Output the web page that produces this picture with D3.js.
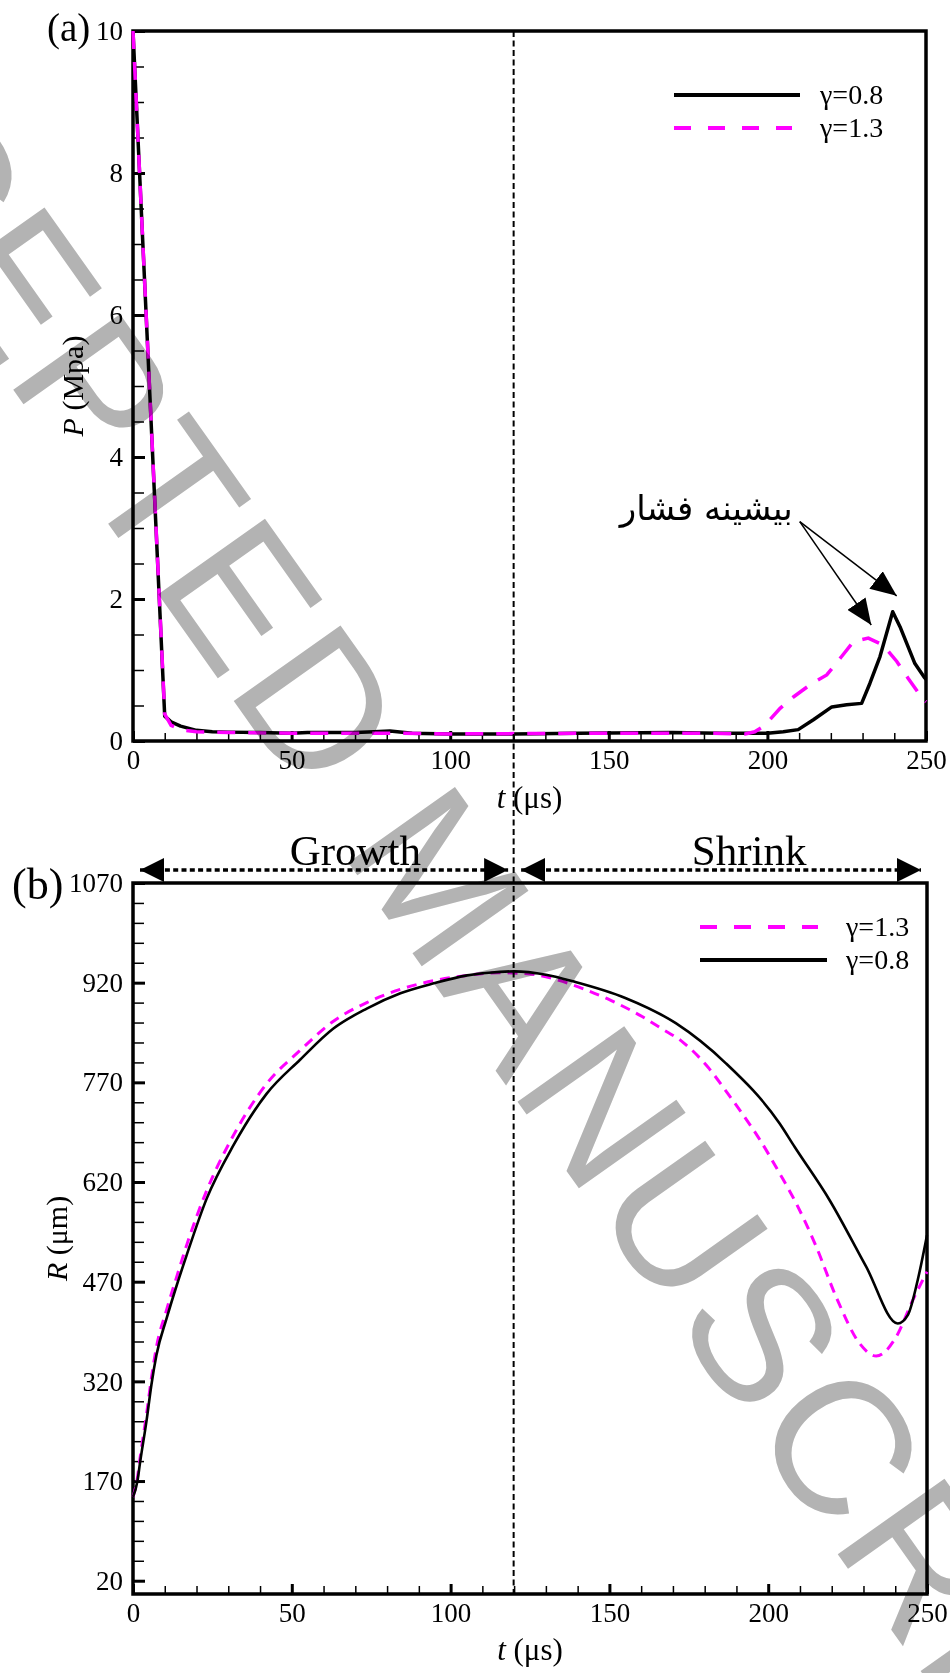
<!DOCTYPE html>
<html>
<head>
<meta charset="utf-8">
<script src="https://cdn.jsdelivr.net/npm/d3@7"></script>
<style>
body { margin: 0; background: #fff; }
svg text { font-family: "Liberation Serif", "Times New Roman", serif; fill: #000; }
</style>
</head>
<body>
<div id="chart"></div>
<script>
// tick labels
var tTicks = [0, 50, 100, 150, 200, 250];
var pTicks = [0, 2, 4, 6, 8, 10];
var rTicks = [20, 170, 320, 470, 620, 770, 920, 1070];

// (a) pressure, gamma = 0.8
var p08_t = [0, 10, 12, 15, 20, 25, 30, 40, 50, 55, 70, 76, 81, 88, 100, 120, 140, 170, 185, 200, 205, 209.7, 214.5, 220.3, 225, 229.7, 232.3, 235.5, 237.6, 239.5, 241.8, 246.5, 249.4, 250];
var p08_v = [10, 0.35, 0.27, 0.21, 0.15, 0.13, 0.125, 0.12, 0.11, 0.12, 0.12, 0.13, 0.14, 0.11, 0.1, 0.1, 0.11, 0.12, 0.11, 0.11, 0.13, 0.16, 0.3, 0.48, 0.51, 0.53, 0.81, 1.19, 1.52, 1.82, 1.61, 1.09, 0.9, 0.87];
// (a) pressure, gamma = 1.3
var p13_t = [0, 10, 12, 15, 20, 30, 50, 80, 100, 150, 180, 193, 196, 199.2, 204, 208.2, 214, 218.7, 223.4, 227.1, 231.8, 236.5, 240.8, 244.4, 249.2, 250];
var p13_v = [10, 0.38, 0.22, 0.16, 0.13, 0.12, 0.11, 0.11, 0.1, 0.11, 0.11, 0.1, 0.13, 0.22, 0.46, 0.62, 0.81, 0.93, 1.19, 1.4, 1.45, 1.35, 1.12, 0.88, 0.58, 0.55];

// (b) radius, gamma = 0.8
var r08_t = [0, 1.4, 2.2, 4.3, 5.8, 7.4, 10.6, 13.8, 16.9, 23.2, 31.6, 42.1, 52.6, 63.1, 73.6, 84.2, 94.7, 105.2, 112, 120, 130, 139.3, 155, 170.9, 186.6, 203.6, 208.3, 219.3, 230.8, 240.8, 244, 247.1, 250];
var r08_v = [146, 170, 197, 262, 315, 360, 415, 465, 510, 595, 675, 753, 804, 851, 881, 904, 919, 931, 935, 937, 932, 921, 897, 859, 799, 708, 673, 593, 493, 407, 420, 473, 540];
// (b) radius, gamma = 1.3
var r13_t = [0, 1.4, 2.2, 4.3, 5.8, 7.4, 10.6, 13.8, 16.9, 23.2, 31.6, 42.1, 52.6, 63.1, 73.6, 84.2, 94.7, 105.2, 115, 125, 133.8, 142.2, 150.6, 160.3, 166.4, 173, 181, 187.3, 191.8, 196.8, 203.6, 208.8, 215.1, 221.4, 228.8, 234, 240.3, 245.5, 250];
var r13_v = [146, 175, 204, 272, 325, 372, 428, 478, 525, 607, 690, 768, 818, 862, 890, 910, 923, 931, 935, 933, 924, 910, 893, 869, 851, 831, 793, 753, 723, 688, 633, 588, 523, 447, 377, 358, 387, 442, 485];

var legendA = ["γ=0.8", "γ=1.3"];
var legendB = ["γ=1.3", "γ=0.8"];
var phases = [
    { label: "Growth", from: 0, to: 120, labelAt: 70 },
    { label: "Shrink", from: 120, to: 250, labelAt: 194 }
];
var boundaryT = 120;
var peakNote = { text: "بیشینه فشار", t: 210.2, p: 3.09 };

var svg = d3.select("#chart").append("svg")
    .attr("width", 950)
    .attr("height", 1673);

var defs = svg.append("defs");
defs.append("marker")
    .attr("id", "head")
    .attr("markerUnits", "userSpaceOnUse")
    .attr("markerWidth", 26).attr("markerHeight", 22)
    .attr("refX", 26).attr("refY", 11)
    .attr("orient", "auto-start-reverse")
    .append("path").attr("d", "M0,0 L26,11 L0,22 Z").attr("fill", "#000");
defs.append("marker")
    .attr("id", "phase")
    .attr("markerUnits", "userSpaceOnUse")
    .attr("markerWidth", 24).attr("markerHeight", 24)
    .attr("refX", 24).attr("refY", 12)
    .attr("orient", "auto-start-reverse")
    .append("path").attr("d", "M0,0 L24,12 L0,24 Z").attr("fill", "#000");

var xA = d3.scaleLinear().domain([0, 250]).range([133, 926]);
var yA = d3.scaleLinear().domain([0, 10]).range([741, 31]);
var xB = d3.scaleLinear().domain([0, 250]).range([133, 927]);
var yB = d3.scaleLinear().domain([0, 1070]).range([1594, 883]);

function minor_of(major, step) {
    var lo = major[0], hi = major[major.length - 1];
    return d3.range(lo, hi + step / 2, step).filter(function (v) {
        return major.every(function (m) { return Math.abs(m - v) > 1e-6; });
    });
}

function draw_axes(g, x, y, xMajor, yMajor, xStep, yStep) {
    // minor ticks
    g.append("g")
        .attr("transform", "translate(0," + y.range()[0] + ")")
        .call(d3.axisBottom(x).tickValues(minor_of(xMajor, xStep)).tickSize(-8).tickFormat(""))
        .call(function (s) { s.select(".domain").remove(); s.selectAll("line").attr("stroke-width", 1.5); });
    g.append("g")
        .attr("transform", "translate(" + x.range()[0] + ",0)")
        .call(d3.axisLeft(y).tickValues(minor_of(yMajor, yStep)).tickSize(-11).tickFormat(""))
        .call(function (s) { s.select(".domain").remove(); s.selectAll("line").attr("stroke-width", 1.5); });
    // major ticks + labels
    g.append("g")
        .attr("transform", "translate(0," + y.range()[0] + ")")
        .call(d3.axisBottom(x).tickValues(xMajor).tickSize(-10).tickPadding(9).tickFormat(d3.format("d")))
        .call(function (s) {
            s.select(".domain").remove();
            s.selectAll("line").attr("stroke-width", 3);
            s.selectAll("text").attr("font-size", 27);
        });
    g.append("g")
        .attr("transform", "translate(" + x.range()[0] + ",0)")
        .call(d3.axisLeft(y).tickValues(yMajor).tickSize(-12).tickPadding(10).tickFormat(d3.format("d")))
        .call(function (s) {
            s.select(".domain").remove();
            s.selectAll("line").attr("stroke-width", 3);
            s.selectAll("text").attr("font-size", 27);
        });
    g.append("rect")
        .attr("x", x.range()[0]).attr("y", y.range()[1])
        .attr("width", x.range()[1] - x.range()[0])
        .attr("height", y.range()[0] - y.range()[1])
        .attr("fill", "none").attr("stroke", "#000").attr("stroke-width", 3.5);
}

function series(ts, vs) {
    return d3.zip(ts, vs);
}

function draw_legend(g, labels, styles, x0, y0) {
    labels.forEach(function (lab, i) {
        var st = styles[i];
        var yy = y0 + i * 33;
        g.append("line")
            .attr("x1", x0).attr("x2", x0 + st.len)
            .attr("y1", yy).attr("y2", yy)
            .attr("stroke", st.color).attr("stroke-width", 4)
            .attr("stroke-dasharray", st.dash);
        g.append("text")
            .attr("x", x0 + 146).attr("y", yy + 9)
            .attr("font-size", 28)
            .text(lab);
    });
}

// ---------- panel (a)
var ga = svg.append("g");
draw_axes(ga, xA, yA, tTicks, pTicks, 10, 0.5);

var lineA = d3.line()
    .x(function (d) { return xA(d[0]); })
    .y(function (d) { return yA(d[1]); });

ga.append("path")
    .datum(series(p08_t, p08_v))
    .attr("d", lineA)
    .attr("fill", "none").attr("stroke", "#000").attr("stroke-width", 3.5)
    .attr("stroke-linejoin", "round");
ga.append("path")
    .datum(series(p13_t, p13_v))
    .attr("d", lineA)
    .attr("fill", "none").attr("stroke", "#ff00ff").attr("stroke-width", 3.5)
    .attr("stroke-dasharray", "18,13");

draw_legend(ga, legendA, [
    { color: "#000", dash: null, len: 126 },
    { color: "#ff00ff", dash: "17,17", len: 118 }
], 674, 95);

ga.append("text")
    .attr("x", 47).attr("y", 41)
    .attr("font-size", 39)
    .text("(a)");

ga.append("text")
    .attr("transform", "translate(83," + (yA(5)) + ") rotate(-90)")
    .attr("text-anchor", "middle")
    .attr("font-size", 30)
    .call(function (t) {
        t.append("tspan").attr("font-style", "italic").text("P");
        t.append("tspan").text(" (Mpa)");
    });

ga.append("text")
    .attr("x", xA(125)).attr("y", 808)
    .attr("text-anchor", "middle")
    .attr("font-size", 31)
    .call(function (t) {
        t.append("tspan").attr("font-style", "italic").text("t");
        t.append("tspan").text(" (μs)");
    });

// peak annotation
var sx = xA(peakNote.t), sy = yA(peakNote.p);
[series(p13_t, p13_v), series(p08_t, p08_v)].forEach(function (s, i) {
    var pk = s[d3.maxIndex(s, function (d) { return d[0] > 150 ? d[1] : -1; })];
    var off = i === 0 ? [3, -13] : [4, -16];
    ga.append("line")
        .attr("x1", sx).attr("y1", sy)
        .attr("x2", xA(pk[0]) + off[0]).attr("y2", yA(pk[1]) + off[1])
        .attr("stroke", "#000").attr("stroke-width", 1.5)
        .attr("marker-end", "url(#head)");
});
ga.append("text")
    .attr("x", sx - 7).attr("y", sy - 2)
    .attr("text-anchor", "end")
    .style("font-family", "DejaVu Sans")
    .attr("font-size", 34)
    .text(peakNote.text);

// ---------- panel (b)
var gb = svg.append("g");
draw_axes(gb, xB, yB, tTicks, rTicks, 10, 30);

var lineB = d3.line()
    .curve(d3.curveMonotoneX)
    .x(function (d) { return xB(d[0]); })
    .y(function (d) { return yB(d[1]); });

gb.append("path")
    .datum(series(r13_t, r13_v))
    .attr("d", lineB)
    .attr("fill", "none").attr("stroke", "#ff00ff").attr("stroke-width", 3)
    .attr("stroke-dasharray", "10,7");
gb.append("path")
    .datum(series(r08_t, r08_v))
    .attr("d", lineB)
    .attr("fill", "none").attr("stroke", "#000").attr("stroke-width", 2.6);

draw_legend(gb, legendB, [
    { color: "#ff00ff", dash: "17,17", len: 118 },
    { color: "#000", dash: null, len: 127 }
], 700, 927);

gb.append("text")
    .attr("x", 12).attr("y", 899)
    .attr("font-size", 44)
    .text("(b)");

gb.append("text")
    .attr("transform", "translate(67," + yB(535) + ") rotate(-90)")
    .attr("text-anchor", "middle")
    .attr("font-size", 30)
    .call(function (t) {
        t.append("tspan").attr("font-style", "italic").text("R");
        t.append("tspan").text(" (μm)");
    });

gb.append("text")
    .attr("x", xB(125)).attr("y", 1660)
    .attr("text-anchor", "middle")
    .attr("font-size", 31)
    .call(function (t) {
        t.append("tspan").attr("font-style", "italic").text("t");
        t.append("tspan").text(" (μs)");
    });

// growth / shrink arrows above panel (b)
phases.forEach(function (ph) {
    gb.append("line")
        .attr("x1", xB(ph.from) + 7).attr("x2", xB(ph.to) - 6)
        .attr("y1", 870).attr("y2", 870)
        .attr("stroke", "#000").attr("stroke-width", 3.5)
        .attr("stroke-dasharray", "5,3.3")
        .attr("marker-start", "url(#phase)")
        .attr("marker-end", "url(#phase)");
    gb.append("text")
        .attr("x", xB(ph.labelAt)).attr("y", 865)
        .attr("text-anchor", "middle")
        .attr("font-size", 43)
        .text(ph.label);
});

// boundary between growth and shrink, through both panels
svg.append("line")
    .attr("x1", xA(boundaryT)).attr("x2", xA(boundaryT))
    .attr("y1", yA(10)).attr("y2", yB(0))
    .attr("stroke", "#000").attr("stroke-width", 2)
    .attr("stroke-dasharray", "6,3.5");

// watermark
svg.append("text")
    .attr("transform", "translate(-310,-67) rotate(54.7)")
    .style("font-family", "Liberation Sans")
    .attr("font-size", 190)
    .style("letter-spacing", "4px")
    .style("fill", "#b3b3b3")
    .style("mix-blend-mode", "multiply")
    .text("ACCEPTED MANUSCRIPT");
</script>
</body>
</html>
